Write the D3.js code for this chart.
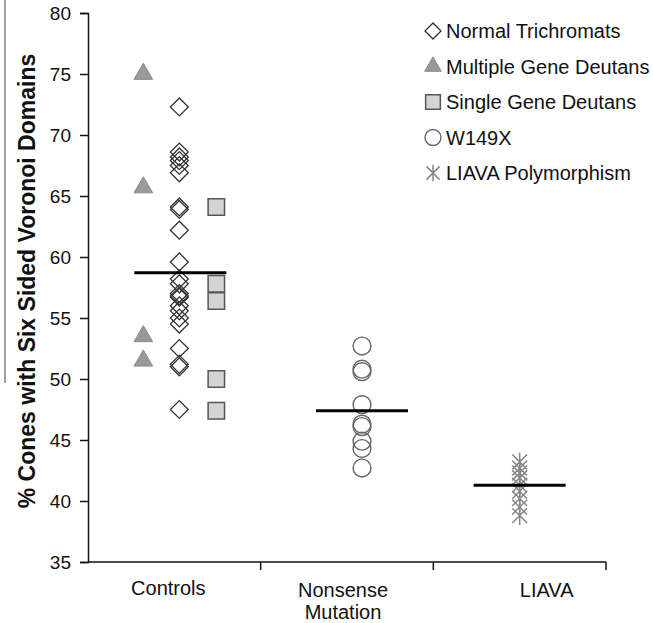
<!DOCTYPE html>
<html>
<head>
<meta charset="utf-8">
<script src="https://cdn.jsdelivr.net/npm/d3@7"></script>
<style>
  body { margin: 0; background: #fff; }
  svg { display: block; font-family: "Liberation Sans", Arial, sans-serif; }
</style>
</head>
<body>
<div id="chart"></div>
<script>
var svgWidth = 653;
var svgHeight = 623;

// values
var categories = ["Controls", "Nonsense Mutation", "LIAVA"];
var normalTrichromats = [72.3, 68.6, 68.2, 67.9, 67.5, 66.9, 64.1, 63.9, 62.2, 59.6, 58.2, 57.8, 57.0, 56.8, 56.7, 56.0, 55.6, 55.0, 54.5, 52.5, 51.2, 51.0, 47.5];
var multipleGeneDeutans = [75.0, 65.7, 53.5, 51.5];
var singleGeneDeutans = [64.1, 57.8, 56.4, 50.0, 47.4];
var w149x = [52.7, 50.8, 50.6, 47.9, 46.3, 46.1, 44.9, 44.3, 42.7];
var liavaPoly = [43.2, 42.7, 42.3, 41.9, 41.3, 40.8, 40.2, 39.5, 38.8];
var groupMeans = [58.7, 47.4, 41.3];
var yTicks = [35, 40, 45, 50, 55, 60, 65, 70, 75, 80];

var plot = { left: 88, right: 606, top: 13, bottom: 562 };

var svg = d3.select("#chart")
  .append("svg")
  .attr("width", svgWidth)
  .attr("height", svgHeight);

var xScale = d3.scaleBand()
  .domain(categories)
  .range([plot.left, plot.right]);

var yScale = d3.scaleLinear()
  .domain([35, 80])
  .range([plot.bottom, plot.top]);

// star marker like the spreadsheet one: an X plus a vertical stroke
var symbolStar = {
  draw: function(ctx, size) {
    var r = Math.sqrt(size) / 2;
    ctx.moveTo(-r, -r); ctx.lineTo(r, r);
    ctx.moveTo(-r, r); ctx.lineTo(r, -r);
    ctx.moveTo(0, -r * 1.25); ctx.lineTo(0, r * 1.25);
  }
};

var series = [
  { name: "Normal Trichromats", values: normalTrichromats, cat: "Controls", dx: 5,
    type: d3.symbolSquare, size: 160, rotate: 45, fill: "none", stroke: "#333", sw: 1.3 },
  { name: "Multiple Gene Deutans", values: multipleGeneDeutans, cat: "Controls", dx: -31,
    type: d3.symbolTriangle, size: 150, rotate: 0, fill: "#999", stroke: "#8a8a8a", sw: 1 },
  { name: "Single Gene Deutans", values: singleGeneDeutans, cat: "Controls", dx: 42,
    type: d3.symbolSquare, size: 270, rotate: 0, fill: "#d4d4d4", stroke: "#555", sw: 1.5 },
  { name: "W149X", values: w149x, cat: "Nonsense Mutation", dx: 15,
    type: d3.symbolCircle, size: 250, rotate: 0, fill: "none", stroke: "#666", sw: 1.4 },
  { name: "LIAVA Polymorphism", values: liavaPoly, cat: "LIAVA", dx: 0,
    type: symbolStar, size: 220, rotate: 0, fill: "none", stroke: "#888", sw: 1.5 }
];
var meanOffsets = [6, 15, 0];

// left edge artefact line from the scan
svg.append("line")
  .attr("x1", 5).attr("x2", 5)
  .attr("y1", 0).attr("y2", 383)
  .attr("stroke", "#444").attr("stroke-width", 1);

// y axis
var yAxis = d3.axisLeft(yScale).tickValues(yTicks).tickSize(8).tickPadding(9);
var gy = svg.append("g")
  .attr("transform", `translate(${plot.left},0)`)
  .call(yAxis);
gy.select(".domain").attr("stroke", "#111").attr("stroke-width", 1.5);
gy.selectAll(".tick line").attr("stroke", "#111").attr("stroke-width", 1.5);
gy.selectAll(".tick text").attr("font-size", 19).attr("fill", "#111")
  .attr("font-family", "Liberation Sans, Arial, sans-serif");

// x axis: line plus boundary ticks
var xAxisG = svg.append("g");
xAxisG.append("line")
  .attr("x1", plot.left).attr("x2", plot.right)
  .attr("y1", plot.bottom).attr("y2", plot.bottom)
  .attr("stroke", "#111").attr("stroke-width", 1.5);
xAxisG.selectAll(".xtick")
  .data(categories)
  .join("line")
  .attr("class", "xtick")
  .attr("x1", d => xScale(d) + xScale.bandwidth())
  .attr("x2", d => xScale(d) + xScale.bandwidth())
  .attr("y1", plot.bottom).attr("y2", plot.bottom + 8)
  .attr("stroke", "#111").attr("stroke-width", 1.5);

var labelLines = [["Controls"], ["Nonsense", "Mutation"], ["LIAVA"]];
var labelDx = [-6, -4, 27];
categories.forEach(function(c, i) {
  var t = xAxisG.append("text")
    .attr("x", xScale(c) + xScale.bandwidth() / 2 + labelDx[i])
    .attr("y", i === 0 ? 595 : 597)
    .attr("text-anchor", "middle")
    .attr("font-size", 20)
    .attr("fill", "#111");
  labelLines[i].forEach(function(line, j) {
    t.append("tspan")
      .attr("x", xScale(c) + xScale.bandwidth() / 2 + labelDx[i])
      .attr("dy", j === 0 ? 0 : 22)
      .text(line);
  });
});

// y axis title
svg.append("text")
  .attr("transform", `translate(35,281) rotate(-90)`)
  .attr("text-anchor", "middle")
  .attr("font-size", 23)
  .attr("font-weight", "bold")
  .attr("fill", "#111")
  .text("% Cones with Six Sided Voronoi Domains");

// points
series.forEach(function(s) {
  var sym = d3.symbol().type(s.type).size(s.size);
  svg.append("g").selectAll("path")
    .data(s.values)
    .join("path")
    .attr("d", sym)
    .attr("transform", d => `translate(${xScale(s.cat) + xScale.bandwidth() / 2 + s.dx},${yScale(d)}) rotate(${s.rotate})`)
    .attr("fill", s.fill)
    .attr("stroke", s.stroke)
    .attr("stroke-width", s.sw);
});

// group mean bars
svg.append("g").selectAll("line")
  .data(groupMeans)
  .join("line")
  .attr("x1", (d, i) => xScale(categories[i]) + xScale.bandwidth() / 2 + meanOffsets[i] - 46)
  .attr("x2", (d, i) => xScale(categories[i]) + xScale.bandwidth() / 2 + meanOffsets[i] + 46)
  .attr("y1", d => yScale(d))
  .attr("y2", d => yScale(d))
  .attr("stroke", "#000")
  .attr("stroke-width", 3);

// legend
var legend = svg.append("g").attr("transform", "translate(433,31)");
var rows = legend.selectAll("g")
  .data(series)
  .join("g")
  .attr("transform", (d, i) => `translate(0,${i * 35.5})`);
rows.append("path")
  .attr("d", d => d3.symbol().type(d.type).size(d.size * 0.8)())
  .attr("transform", d => `rotate(${d.rotate})`)
  .attr("fill", d => d.fill)
  .attr("stroke", d => d.stroke)
  .attr("stroke-width", d => d.sw);
rows.append("text")
  .attr("x", 13)
  .attr("dy", "0.35em")
  .attr("font-size", 20)
  .attr("fill", "#111")
  .text(d => d.name);
</script>
</body>
</html>
